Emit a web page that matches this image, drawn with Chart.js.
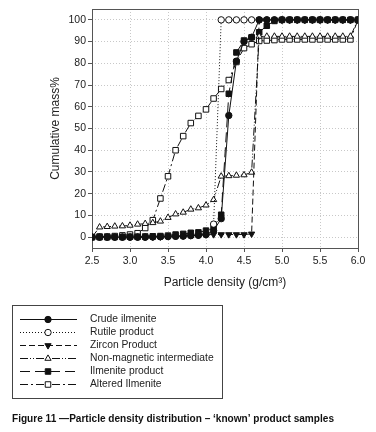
<!DOCTYPE html>
<html>
<head>
<meta charset="utf-8">
<script src="https://cdn.jsdelivr.net/npm/chart.js@4/dist/chart.umd.min.js"></script>
<style>
  body { margin: 0; background: #fff; }
  #wrap { width: 376px; height: 432px; position: relative; }
</style>
</head>
<body>
<div id="wrap"><canvas id="densityChart"></canvas></div>
<script>
// data
const density = [2.5, 2.6, 2.7, 2.8, 2.9, 3.0, 3.1, 3.2, 3.3, 3.4, 3.5, 3.6, 3.7, 3.8, 3.9,
  4.0, 4.1, 4.2, 4.3, 4.4, 4.5, 4.6, 4.7, 4.8, 4.9, 5.0, 5.1, 5.2, 5.3, 5.4, 5.5, 5.6,
  5.7, 5.8, 5.9, 6.0];

const crudeIlmenite = [0, 0, 0, 0, 0, 0, 0, 0, 0.1, 0.2, 0.3, 0.4, 0.5, 0.7, 0.9,
  1.2, 3, 8.5, 56, 81, 90, 92, 100, 100, 100, 100, 100, 100, 100, 100, 100, 100,
  100, 100, 100, 100];
const rutileProduct = [0, 0, 0, 0, 0, 0, 0, 0, 0.1, 0.2, 0.3, 0.4, 0.5, 0.7, 0.9,
  1.2, 6, 100, 100, 100, 100, 100, 100, 100, 100, 100, 100, 100, 100, 100, 100, 100,
  100, 100, 100, 100];
const zirconProduct = [0, 0, 0, 0, 0, 0, 0, 0, 0.1, 0.2, 0.3, 0.5, 0.7, 0.9, 1,
  1.1, 1.2, 1.2, 1.2, 1.2, 1.2, 1.5, 100, 100, 100, 100, 100, 100, 100, 100, 100, 100,
  100, 100, 100, 100];
const nonMagnetic = [0, 4.6, 4.8, 5, 5.1, 5.4, 5.9, 6.2, 6.6, 7.3, 9, 10.6, 11.4, 12.8, 13.4,
  14.7, 17.2, 28, 28.2, 28.4, 28.6, 29.8, 92.4, 92.4, 92.4, 92.4, 92.4, 92.4, 92.4, 92.4, 92.4, 92.4,
  92.4, 92.4, 92.4, 100];
const ilmeniteProduct = [0, 0, 0, 0.1, 0.1, 0.2, 0.2, 0.3, 0.4, 0.5, 0.7, 1.2, 1.5, 2, 2.2,
  3, 4.5, 10.3, 66, 85, 90.5, 92, 94.3, 97.3, 99.5, 100, 100, 100, 100, 100, 100, 100,
  100, 100, 100, 100];
const alteredIlmenite = [0, 0.3, 0.3, 0.5, 0.8, 1.2, 1.8, 4.2, 7.8, 17.8, 28, 40, 46.5, 52.5, 55.8,
  58.8, 63.8, 68.2, 72.3, 80.6, 87, 88.8, 90.3, 90.5, 90.7, 91, 91, 91, 91, 91, 91, 91,
  91, 91, 91, 100];

const xTicks = [2.5, 3.0, 3.5, 4.0, 4.5, 5.0, 5.5, 6.0];
const yTicks = [0, 10, 20, 30, 40, 50, 60, 70, 80, 90, 100];

const FONT = "'Liberation Sans', Arial, sans-serif";
const INK = '#111';

const toPoints = arr => density.map((x, i) => ({ x: x, y: arr[i] }));

function series(label, values, dash, style, fill, radius, rotation) {
  return {
    label: label,
    data: toPoints(values),
    borderColor: INK,
    borderWidth: 1,
    borderDash: dash,
    pointStyle: style,
    pointRotation: rotation || 0,
    pointRadius: radius,
    pointBackgroundColor: fill,
    pointBorderColor: INK,
    pointBorderWidth: 1,
    tension: 0
  };
}

const datasets = [
  series('Crude ilmenite', crudeIlmenite, [], 'circle', INK, 3.2),
  series('Rutile product', rutileProduct, [1, 2], 'circle', '#fff', 3.2),
  series('Zircon Product', zirconProduct, [6, 3], 'triangle', INK, 3.6, 180),
  series('Non-magnetic intermediate', nonMagnetic, [8, 2, 1, 2, 1, 2], 'triangle', '#fff', 3.6),
  series('Ilmenite product', ilmeniteProduct, [10, 5], 'rect', INK, 3.9),
  series('Altered Ilmenite', alteredIlmenite, [8, 3, 2, 3], 'rect', '#fff', 3.9)
];

// frame, legend box and caption
const extras = {
  id: 'extras',
  beforeDatasetsDraw(chart) {
    const { ctx, chartArea: a } = chart;
    ctx.save();
    ctx.strokeStyle = '#555';
    ctx.lineWidth = 1;
    ctx.strokeRect(Math.round(a.left) + 0.5, Math.round(a.top) + 0.5,
      Math.round(a.right - a.left), Math.round(a.bottom - a.top));
    ctx.restore();
  },
  afterDraw(chart) {
    const ctx = chart.ctx;
    ctx.save();
    // legend
    ctx.strokeStyle = '#444';
    ctx.lineWidth = 1;
    ctx.strokeRect(12.5, 305.5, 210, 93);
    chart.data.datasets.forEach((ds, i) => {
      const y = 319 + i * 13;
      ctx.strokeStyle = INK;
      ctx.lineWidth = 1;
      ctx.setLineDash(ds.borderDash);
      ctx.beginPath();
      ctx.moveTo(20, y + 0.5);
      ctx.lineTo(77, y + 0.5);
      ctx.stroke();
      ctx.setLineDash([]);
      ctx.fillStyle = ds.pointBackgroundColor;
      ctx.strokeStyle = INK;
      Chart.helpers.drawPoint(ctx, {
        pointStyle: ds.pointStyle,
        rotation: ds.pointRotation,
        radius: ds.pointRadius,
        borderWidth: 1
      }, 48, y + 0.5);
      ctx.fillStyle = '#222';
      ctx.font = '10.3px ' + FONT;
      ctx.textBaseline = 'middle';
      ctx.fillText(ds.label, 90, y + 0.5);
    });
    // caption
    ctx.fillStyle = '#111';
    ctx.font = 'bold 10.5px ' + FONT;
    ctx.textBaseline = 'middle';
    ctx.fillText('Figure 11 \u2014Particle density distribution \u2013 \u2018known\u2019 product samples', 12, 419, 322);
    ctx.restore();
  }
};

const ctx = document.getElementById('densityChart');

new Chart(ctx, {
  type: 'line',
  data: { datasets: datasets },
  plugins: [extras],
  options: {
    responsive: true,
    maintainAspectRatio: false,
    animation: false,
    layout: { padding: { left: 0, top: 9, right: 18, bottom: 134 } },
    plugins: {
      legend: { display: false },
      tooltip: { enabled: false }
    },
    scales: {
      x: {
        type: 'linear',
        min: 2.5,
        max: 6.0,
        afterBuildTicks: s => { s.ticks = xTicks.map(v => ({ value: v })); },
        afterFit: s => { s.height = 50; },
        grid: { color: '#c8c8c8', tickColor: '#555', tickLength: 4, tickBorderDash: [] },
        border: { display: false, dash: [1, 2] },
        ticks: {
          color: '#222',
          font: { family: FONT, size: 10.5 },
          padding: 3,
          maxRotation: 0,
          callback: v => v.toFixed(1)
        },
        title: {
          display: true,
          text: 'Particle density (g/cm\u00b3)',
          color: '#222',
          font: { family: FONT, size: 12 },
          padding: { top: 0, bottom: 8 }
        }
      },
      y: {
        min: -5,
        max: 105,
        afterBuildTicks: s => { s.ticks = yTicks.map(v => ({ value: v })); },
        afterFit: s => { s.width = 92; },
        grid: { color: '#c8c8c8', tickColor: '#555', tickLength: 4, tickBorderDash: [] },
        border: { display: false, dash: [1, 2] },
        ticks: {
          color: '#222',
          font: { family: FONT, size: 10.5 },
          padding: 2
        },
        title: {
          display: true,
          text: 'Cumulative mass%',
          color: '#222',
          font: { family: FONT, size: 12 },
          padding: { top: 48, bottom: 0 }
        }
      }
    }
  }
});
</script>
</body>
</html>
